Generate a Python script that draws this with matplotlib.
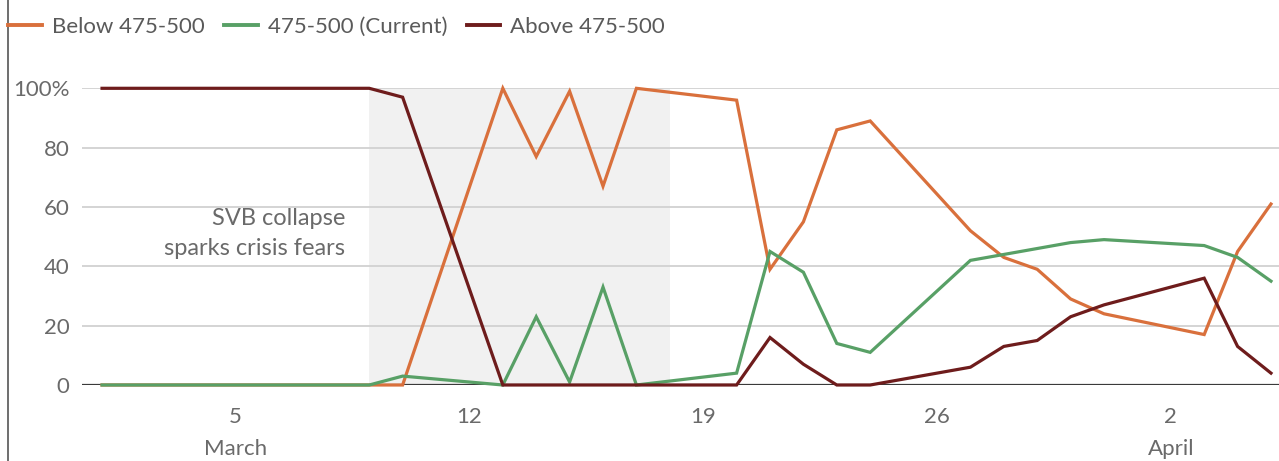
import matplotlib
matplotlib.use("Agg")
import matplotlib.pyplot as plt
from matplotlib.lines import Line2D
import datetime as dt

plt.rcParams['font.family'] = ['Lato', 'DejaVu Sans']

# ---- data ----
dates = ["2023-03-01", "2023-03-02", "2023-03-03", "2023-03-06", "2023-03-07",
         "2023-03-08", "2023-03-09", "2023-03-10", "2023-03-13", "2023-03-14",
         "2023-03-15", "2023-03-16", "2023-03-17", "2023-03-20", "2023-03-21",
         "2023-03-22", "2023-03-23", "2023-03-24", "2023-03-27", "2023-03-28",
         "2023-03-29", "2023-03-30", "2023-03-31", "2023-04-03", "2023-04-04",
         "2023-04-05"]
below = [0, 0, 0, 0, 0, 0, 0, 0, 100, 77, 99, 67, 100, 96, 39, 55, 86, 89,
         52, 43, 39, 29, 24, 17, 45, 61]
current = [0, 0, 0, 0, 0, 0, 0, 3, 0, 23, 1, 33, 0, 4, 45, 38, 14, 11,
           42, 44, 46, 48, 49, 47, 43, 35]
above = [100, 100, 100, 100, 100, 100, 100, 97, 0, 0, 0, 0, 0, 0, 16, 7, 0, 0,
         6, 13, 15, 23, 27, 36, 13, 4]
series_labels = ["Below 475-500", "475-500 (Current)", "Above 475-500"]
yticks = [0, 20, 40, 60, 80, 100]
ytick_labels = ["0", "20", "40", "60", "80", "100%"]
xtick_dates = ["2023-03-05", "2023-03-12", "2023-03-19", "2023-03-26", "2023-04-02"]
xtick_labels = ["5\nMarch", "12", "19", "26", "2\nApril"]
shade_span = ("2023-03-09", "2023-03-18")
annotation = "SVB collapse\nsparks crisis fears"

colors = ["#d9703c", "#58a066", "#6e1c1c"]

to_d = lambda s: dt.datetime.strptime(s, "%Y-%m-%d")
x = [to_d(d) for d in dates]

W, H = 1279, 461
fig = plt.figure(figsize=(W / 100, H / 100), dpi=100)
ax = fig.add_axes([82 / W, 76 / H, (W - 82) / W, (385 - 88.3) / H])

ax.axvspan(to_d(shade_span[0]), to_d(shade_span[1]), color="#f1f1f1", zorder=0, lw=0)

for yv in yticks:
    if yv == 0:
        ax.axhline(yv, color="#3a3a3a", lw=1.6, zorder=1)
    else:
        ax.axhline(yv, color="#d4d4d4", lw=1.4, zorder=1)

for vals, c, lab in zip([below, current, above], colors, series_labels):
    ax.plot(x, vals, color=c, lw=2.3, label=lab, zorder=3, clip_on=False,
            solid_joinstyle="miter")

x0 = to_d("2023-03-01")
ax.set_xlim(x0 - dt.timedelta(days=0.6), x0 + dt.timedelta(days=35.24))
ax.set_ylim(0, 100)
for s in ax.spines.values():
    s.set_visible(False)

ax.set_yticks(yticks)
ax.set_yticklabels(ytick_labels)
ax.set_xticks([to_d(d) for d in xtick_dates])
ax.set_xticklabels(xtick_labels)
ax.tick_params(axis="both", length=0, labelsize=16, labelcolor="#6a6a6a")
ax.tick_params(axis="y", pad=9)
ax.tick_params(axis="x", pad=16)
for t in ax.get_xticklabels():
    t.set_linespacing(1.75)

ax.text(x0 + dt.timedelta(days=7.28), 51.0, annotation, ha="right", va="center",
        multialignment="right", fontsize=17, color="#6a6a6a", linespacing=1.5,
        zorder=4)

handles = [Line2D([], [], color=c, lw=2.8) for c in colors]
fig.legend(handles, series_labels, loc="center left",
           bbox_to_anchor=(6 / W, 1 - 27 / H),
           ncol=3, frameon=False, fontsize=16, labelcolor="#5a5a5a",
           handlelength=1.5, handletextpad=0.45, columnspacing=0.9,
           borderaxespad=0, borderpad=0.1)

# left border of the image
fig.add_artist(Line2D([8 / W, 8 / W], [0, 1], transform=fig.transFigure,
                      color="#555555", lw=1.2))

fig.savefig("out.png", dpi=100)
